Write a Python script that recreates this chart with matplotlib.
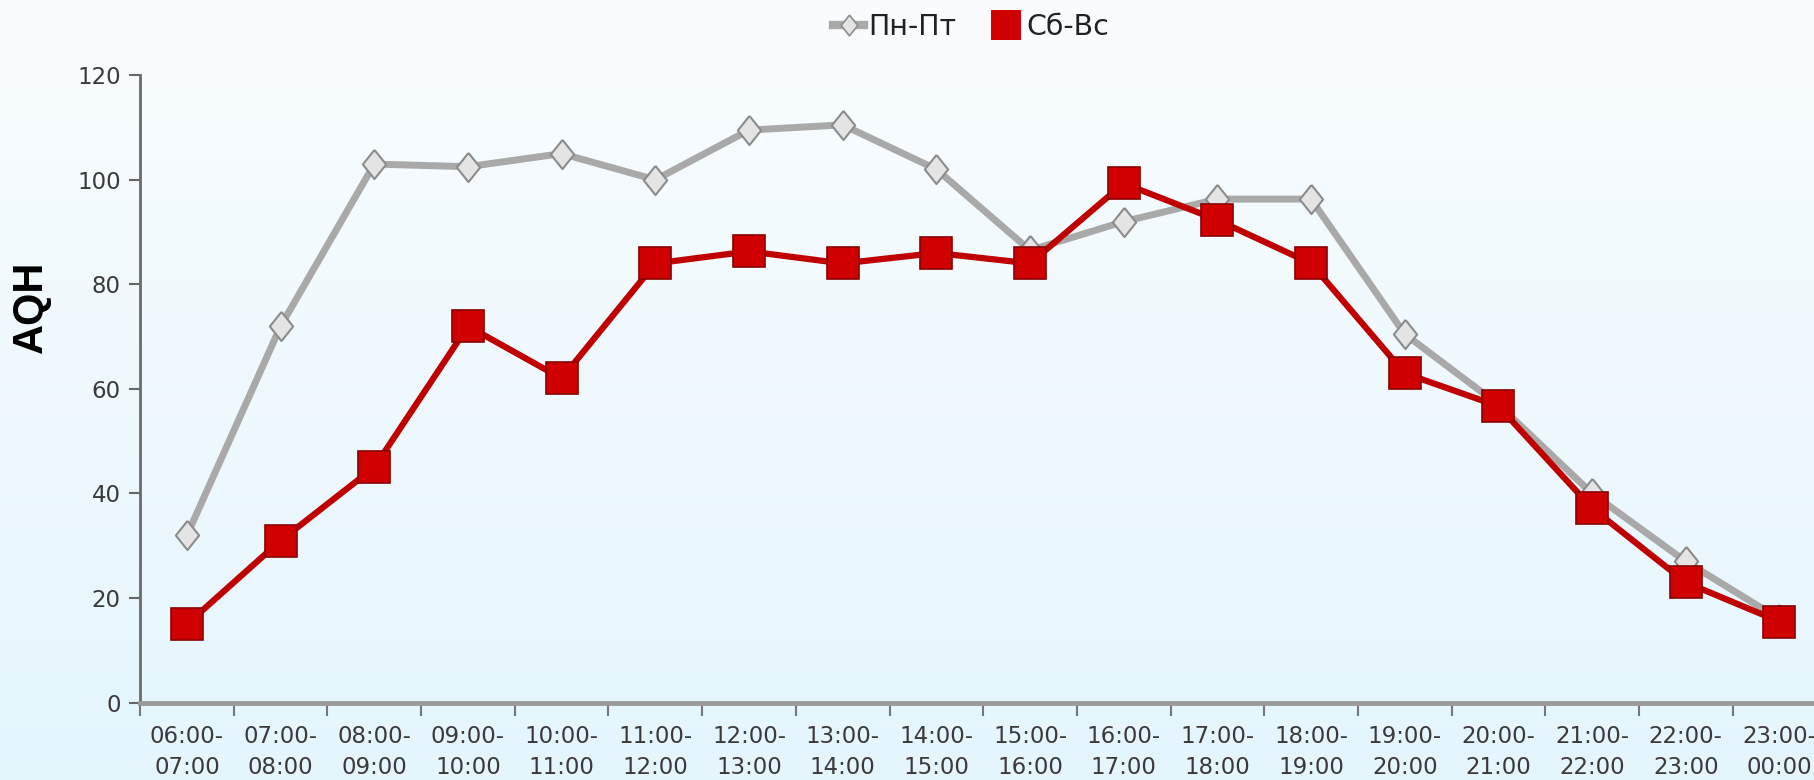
"""AQH by hour: weekdays vs weekend."""
import matplotlib
matplotlib.use("Agg")
import matplotlib.pyplot as plt
import numpy as np
from matplotlib.lines import Line2D

plt.rcParams["font.family"] = ["DejaVu Sans"]

# ── data ────────────────────────────────────────────────────────────────
HOURS = ["06:00-\n07:00", "07:00-\n08:00", "08:00-\n09:00", "09:00-\n10:00",
         "10:00-\n11:00", "11:00-\n12:00", "12:00-\n13:00", "13:00-\n14:00",
         "14:00-\n15:00", "15:00-\n16:00", "16:00-\n17:00", "17:00-\n18:00",
         "18:00-\n19:00", "19:00-\n20:00", "20:00-\n21:00", "21:00-\n22:00",
         "22:00-\n23:00", "23:00-\n00:00"]
WEEKDAY = [32, 72, 103, 102.5, 105, 100, 109.5, 110.5, 102, 86.5,
           92, 96.3, 96.3, 70.5, 57, 40, 27, 16]
WEEKEND = [15, 31, 45, 72, 62, 84, 86.3, 84, 86, 84,
           99.3, 92.3, 84, 63, 56.7, 37.2, 23, 15.5]
LABELS = ["Пн-Пт", "Сб-Вс"]

GRAY, GRAY_EDGE, GRAY_FILL = "#a9a9a9", "#8c8c8c", "#e4e4e4"
RED, RED_EDGE = "#c00000", "#8a0000"
TXT = "#3a3a3a"
DIAMOND = [(0, 1), (0.8, 0), (0, -1), (-0.8, 0), (0, 1)]

fig = plt.figure(figsize=(18.15, 7.8), dpi=100)

# background gradient (white-ish top → pale blue bottom)
bg = fig.add_axes([0, 0, 1, 1], zorder=-10)
top = np.array([0.978, 0.99, 0.998])
bot = np.array([0.895, 0.963, 0.992])
t = np.linspace(0, 1, 256)[:, None]
grad = (top * (1 - t) + bot * t)[:, None, :]
bg.imshow(grad, aspect="auto", extent=[0, 1, 0, 1])
bg.axis("off")

ax = fig.add_axes([0.0772, 0.0992, 0.929, 0.8044])
ax.patch.set_alpha(0)
x = np.arange(len(HOURS))

ax.plot(x, WEEKDAY, color=GRAY, lw=5, solid_joinstyle="round",
        marker=DIAMOND, ms=21, mfc=GRAY_FILL, mec=GRAY_EDGE, mew=1.5,
        zorder=3)
ax.plot(x, WEEKEND, color=RED, lw=4.5, solid_joinstyle="round",
        marker="s", ms=23, mfc="#d00000", mec=RED_EDGE, mew=1.2, zorder=4)

ax.set_xlim(-0.5, len(HOURS) - 0.5)
ax.set_ylim(0, 120)
ax.set_yticks(np.arange(0, 121, 20))

# boundaries carry the tick marks, centres carry the labels
ax.set_xticks(np.arange(len(HOURS) + 1) - 0.5)
ax.set_xticklabels([])
ax.set_xticks(x, minor=True)
ax.set_xticklabels(HOURS, minor=True)
ax.tick_params(axis="x", which="major", direction="out", length=9,
               width=1.5, color="#777777")
ax.tick_params(axis="x", which="minor", length=0, pad=16, labelsize=16.5,
               labelcolor=TXT)
ax.tick_params(axis="y", direction="out", length=8, width=1.5,
               color="#666666", labelsize=16.5, labelcolor=TXT, pad=6)
for lab in ax.get_xticklabels(minor=True):
    lab.set_linespacing(1.45)

for s in ("top", "right"):
    ax.spines[s].set_visible(False)
ax.spines["left"].set_color("#6a6a6a")
ax.spines["left"].set_linewidth(2)
ax.spines["bottom"].set_color("#9a9a9a")
ax.spines["bottom"].set_linewidth(3.5)

fig.text(0.017, 0.607, "AQH", rotation=90, ha="center", va="center",
         fontsize=30, fontweight="bold", color="black",
         family="Liberation Sans")

handles = [
    Line2D([], [], color=GRAY, lw=6, marker=DIAMOND, ms=15,
           mfc=GRAY_FILL, mec=GRAY_EDGE, mew=1.2),
    Line2D([], [], color="none", marker="s", ms=21, mfc="#d00000",
           mec="#d00000", mew=0),
]
fig.legend(handles, LABELS, loc="center", bbox_to_anchor=(0.535, 0.966),
           ncol=2, frameon=False, fontsize=20.5, handlelength=1.1,
           handletextpad=0.15, columnspacing=1.2, labelcolor="#222222")

fig.savefig("out.png", dpi=100)
